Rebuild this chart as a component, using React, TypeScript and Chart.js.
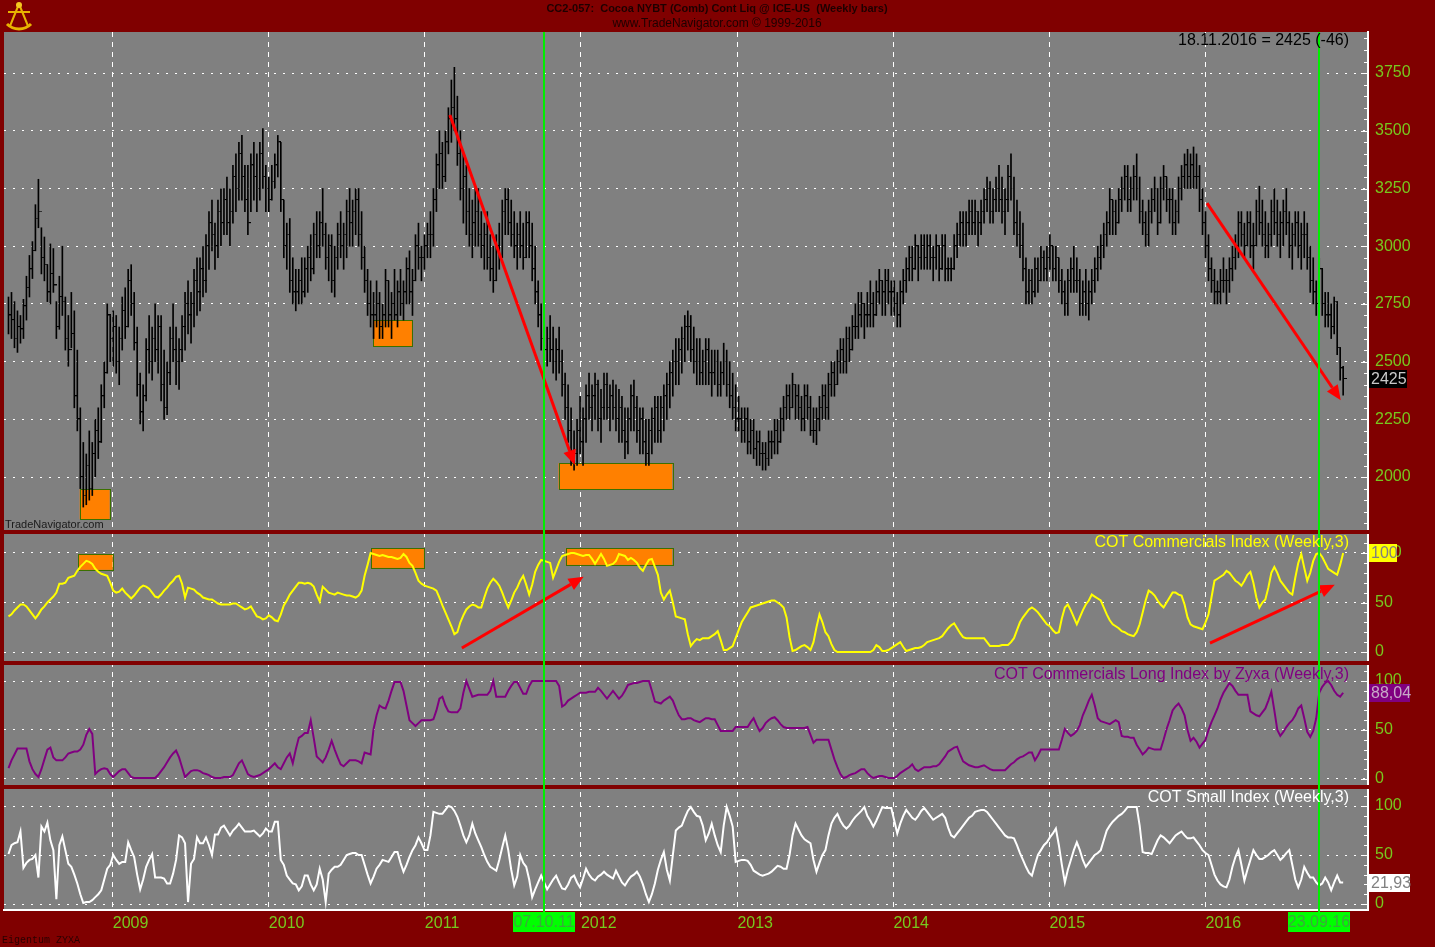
import React, { useEffect, useRef } from 'react';
import { Chart, registerables } from 'chart.js';

Chart.register(...registerables);

const W = 1435;
const H = 947;

// x axis: week index (0 = 02.05.2008 ... 446 = 18.11.2016)
const yearTicks = [34.86, 87.0, 139.14, 191.29, 243.57, 295.71, 347.86, 400.0];
const yearLabels = ['2009', '2010', '2011', '2012', '2013', '2014', '2015', '2016'];
const priceTicks = [2000, 2250, 2500, 2750, 3000, 3250, 3500, 3750];
const indexTicks = [0, 50, 100];
const markerWeeks = [179, 438];
const markerLabels = ['07.10.11', '23.09.16'];
const lastDate = '18.11.2016';

const priceHigh = [
  2780, 2800, 2760, 2720, 2700, 2770, 2870, 2960, 3020, 3180,
  3290, 3080, 3040, 2920, 3010, 2990, 2760, 2870, 3000, 2780,
  2700, 2800, 2720, 2550, 2300, 2150, 2100, 2200, 2150, 2250,
  2300, 2400, 2500, 2750, 2700, 2720, 2700, 2650, 2780, 2820,
  2900, 2920, 2800, 2650, 2450, 2400, 2600, 2700, 2650, 2750,
  2700, 2700, 2550, 2500, 2650, 2750, 2650, 2600, 2700, 2800,
  2850, 2800, 2900, 2950, 2950, 3000, 3050, 3150, 3200, 3100,
  3200, 3250, 3250, 3300, 3250, 3350, 3400, 3450, 3480, 3350,
  3350, 3400, 3450, 3400, 3450, 3510, 3350, 3300, 3350, 3400,
  3480, 3450, 3200, 3100, 3120, 2950, 2900, 2900, 2950, 2950,
  3000, 3050, 3100, 3150, 3150, 3250, 3100, 3050, 3050, 3000,
  3100, 3150, 3100, 3200, 3250, 3200, 3250, 3250, 3150, 3000,
  2900, 2850, 2800, 2850, 2800, 2750, 2900, 2850, 2800, 2900,
  2850, 2900, 2850, 2950, 2980, 2900, 3050, 3100, 3000, 3050,
  3100, 3150, 3250, 3400, 3500, 3450, 3500, 3600, 3720, 3775,
  3650, 3500, 3400, 3350, 3250, 3200, 3250, 3250, 3150, 3100,
  3150, 3050, 3000, 3050, 3100, 3200, 3250, 3250, 3200, 3150,
  3100, 3150, 3100, 3150, 3150, 3100, 3000, 2850, 2750, 2700,
  2650, 2700, 2650, 2600, 2650, 2550, 2450, 2400, 2300, 2200,
  2250, 2350, 2300, 2400, 2450, 2400, 2450, 2420, 2380, 2450,
  2450, 2400, 2420, 2400, 2380, 2350, 2300, 2300, 2400, 2420,
  2350, 2300, 2300, 2250, 2250, 2300, 2350, 2350, 2350, 2400,
  2450, 2500, 2550, 2600, 2600, 2650, 2700, 2720, 2700, 2650,
  2600, 2600, 2550, 2600, 2600, 2550, 2550, 2550, 2500, 2580,
  2550, 2500, 2450, 2400, 2350, 2300, 2300, 2300, 2250, 2250,
  2200, 2200, 2150, 2150, 2200, 2200, 2250, 2250, 2300, 2350,
  2400, 2400, 2450, 2400, 2400, 2350, 2400, 2400, 2350, 2300,
  2300, 2350, 2400, 2400, 2450, 2500, 2500, 2550, 2600, 2600,
  2650, 2650, 2700, 2750, 2800, 2800, 2750, 2800, 2850, 2800,
  2850, 2900, 2850, 2900, 2900, 2850, 2850, 2800, 2850, 2900,
  2950, 3000, 3000, 3050, 3000, 3050, 3050, 3050, 3050, 3000,
  3050, 3000, 3050, 3050, 2950, 2950, 3050, 3100, 3150, 3150,
  3150, 3200, 3200, 3200, 3150, 3200, 3250, 3300, 3280, 3250,
  3300, 3350, 3300, 3250, 3350, 3400, 3300, 3200, 3150, 3100,
  2950, 2900, 2900, 2950, 2950, 3000, 2980, 3000, 3050, 3000,
  3000, 2950, 2900, 2850, 2900, 2950, 3000, 2950, 2900, 2850,
  2900, 2850, 2900, 2950, 3000, 3050, 3100, 3150, 3250, 3200,
  3200, 3250, 3300, 3350, 3350, 3300, 3350, 3400, 3300, 3200,
  3150, 3200, 3250, 3300, 3250, 3300, 3350, 3300, 3250, 3250,
  3200, 3300, 3350, 3400, 3420, 3400, 3430, 3400, 3350, 3250,
  3150, 3050, 2950, 2900, 2850, 2900, 2950, 2900, 2950, 3000,
  3050, 3150, 3150, 3100, 3150, 3150, 3100, 3200, 3260, 3200,
  3150, 3100, 3200, 3250, 3200, 3150, 3200, 3250, 3150, 3100,
  3150, 3150, 3100, 3150, 3100, 3000, 2950, 2850, 2950, 2900,
  2800, 2800, 2750, 2780, 2760, 2560, 2480,
];

const priceLow = [
  2620, 2600, 2560, 2540, 2580, 2600, 2680, 2780, 2860, 2980,
  3080, 2880, 2850, 2760, 2750, 2800, 2600, 2640, 2700, 2550,
  2480, 2560, 2300, 2200, 1950, 1870, 1880, 1900, 1920, 2000,
  2080, 2150, 2300, 2450, 2500, 2480, 2450, 2400, 2550, 2600,
  2650, 2700, 2550, 2350, 2230, 2200, 2330, 2450, 2420, 2500,
  2450, 2330, 2250, 2270, 2400, 2500, 2400, 2380, 2500, 2550,
  2620, 2580, 2650, 2700, 2720, 2780, 2800, 2900, 2980, 2900,
  2950, 3000, 3050, 3050, 3000, 3100, 3150, 3200, 3200, 3150,
  3050, 3150, 3200, 3150, 3200, 3250, 3150, 3150, 3200, 3250,
  3300, 3150, 2950, 2900, 2800, 2750, 2720, 2750, 2750, 2780,
  2800, 2850, 2880, 2950, 2950, 3000, 2900, 2850, 2800, 2780,
  2900, 2950, 2900, 2950, 3000, 3000, 3050, 3000, 2900, 2800,
  2700, 2650, 2600, 2650, 2600, 2600, 2650, 2650, 2600, 2680,
  2650, 2700, 2680, 2750, 2750, 2700, 2850, 2900, 2850, 2900,
  2950, 2950, 3000, 3150, 3250, 3250, 3280, 3400, 3450, 3500,
  3350, 3200, 3100, 3050, 3000, 2950, 3000, 3000, 2950, 2900,
  2900, 2850, 2800, 2850, 2900, 2950, 3050, 3050, 3000, 2950,
  2900, 2950, 2900, 2950, 2950, 2850, 2750, 2650, 2550, 2500,
  2480, 2500, 2450, 2420, 2450, 2350, 2250, 2150, 2050, 2030,
  2050, 2100, 2050, 2150, 2250, 2200, 2250, 2200, 2150, 2250,
  2250, 2200, 2250, 2200, 2150, 2150, 2080, 2100, 2200, 2200,
  2150, 2100, 2100, 2050, 2050, 2100, 2150, 2150, 2150, 2200,
  2250, 2300, 2350, 2400, 2400, 2450, 2500, 2550, 2500, 2450,
  2400, 2400, 2400, 2400, 2400, 2350, 2400, 2350, 2350, 2400,
  2350, 2300, 2250, 2200, 2200, 2150, 2150, 2100, 2100, 2080,
  2050, 2050, 2030, 2030, 2050, 2080, 2100, 2100, 2150, 2200,
  2250, 2250, 2300, 2250, 2250, 2200, 2200, 2250, 2180, 2150,
  2140, 2200, 2250, 2250, 2250, 2350, 2350, 2400, 2450, 2450,
  2450, 2500, 2550, 2600, 2600, 2650, 2600, 2650, 2650, 2650,
  2700, 2750, 2700, 2700, 2750, 2700, 2700, 2650, 2650, 2750,
  2800, 2850, 2850, 2900, 2850, 2900, 2900, 2900, 2900, 2850,
  2900, 2850, 2900, 2850, 2850, 2850, 2900, 2950, 3000, 3000,
  3000, 3050, 3050, 3050, 3000, 3050, 3100, 3150, 3100, 3100,
  3150, 3150, 3100, 3050, 3150, 3200, 3050, 3000, 2950, 2850,
  2750, 2750, 2750, 2780, 2800, 2850, 2850, 2850, 2900, 2850,
  2850, 2800, 2750, 2700, 2700, 2800, 2800, 2800, 2700, 2700,
  2700, 2680, 2750, 2800, 2850, 2900, 2950, 3000, 3050, 3050,
  3050, 3100, 3150, 3200, 3150, 3150, 3200, 3200, 3100, 3050,
  3000, 3000, 3100, 3150, 3050, 3100, 3200, 3150, 3100, 3050,
  3050, 3100, 3200, 3250, 3250, 3250, 3250, 3250, 3150, 3050,
  2950, 2850, 2800, 2750, 2750, 2750, 2800, 2750, 2800, 2850,
  2900, 2950, 3000, 2950, 3000, 2950, 2900, 3000, 3050, 3000,
  2950, 2950, 3000, 3050, 3000, 2950, 3000, 3050, 2950, 2900,
  3000, 2950, 2900, 2950, 2900, 2800, 2750, 2700, 2750, 2700,
  2650, 2650, 2600, 2620, 2530, 2420, 2355,
];

const priceClose = [
  2700, 2680, 2600, 2650, 2640, 2740, 2820, 2900, 2980, 3120,
  3150, 2950, 2920, 2800, 2880, 2830, 2650, 2780, 2760, 2600,
  2550, 2620, 2350, 2250, 2000, 1920, 2050, 1950, 2100, 2200,
  2150, 2350, 2450, 2700, 2600, 2650, 2500, 2600, 2720, 2650,
  2850, 2750, 2580, 2400, 2280, 2350, 2550, 2500, 2600, 2550,
  2650, 2400, 2300, 2450, 2600, 2550, 2500, 2550, 2650, 2750,
  2700, 2750, 2850, 2800, 2900, 2850, 3000, 3100, 3050, 3000,
  3150, 3100, 3200, 3100, 3150, 3300, 3250, 3400, 3300, 3200,
  3100, 3350, 3300, 3250, 3400, 3300, 3250, 3200, 3280, 3350,
  3450, 3200, 3000, 3050, 2850, 2800, 2800, 2850, 2800, 2900,
  2950, 2900, 3050, 3000, 3100, 3050, 2950, 3000, 2850, 2950,
  3050, 3000, 3050, 3150, 3100, 3150, 3200, 3050, 2950, 2850,
  2750, 2700, 2700, 2750, 2650, 2700, 2850, 2700, 2750, 2700,
  2800, 2750, 2800, 2900, 2800, 2850, 3000, 2950, 2950, 3000,
  3050, 3050, 3200, 3350, 3400, 3300, 3450, 3550, 3600, 3550,
  3400, 3250, 3300, 3150, 3050, 3100, 3150, 3050, 3000, 3050,
  2950, 2900, 2850, 3000, 2950, 3150, 3200, 3100, 3050, 3000,
  3050, 3000, 2950, 3100, 3000, 2900, 2800, 2700, 2600, 2550,
  2600, 2550, 2500, 2550, 2500, 2400, 2300, 2200, 2100, 2100,
  2200, 2150, 2250, 2350, 2300, 2350, 2400, 2250, 2300, 2400,
  2300, 2350, 2300, 2250, 2300, 2200, 2150, 2250, 2350, 2300,
  2200, 2250, 2150, 2100, 2200, 2250, 2300, 2200, 2300, 2350,
  2400, 2450, 2500, 2500, 2550, 2600, 2650, 2650, 2550, 2500,
  2500, 2450, 2500, 2550, 2450, 2450, 2500, 2400, 2450, 2500,
  2400, 2350, 2300, 2250, 2250, 2200, 2250, 2150, 2200, 2120,
  2150, 2100, 2100, 2080, 2150, 2150, 2200, 2150, 2250, 2300,
  2350, 2300, 2400, 2350, 2300, 2250, 2350, 2300, 2200, 2200,
  2250, 2300, 2350, 2300, 2400, 2450, 2400, 2500, 2550, 2500,
  2600, 2550, 2650, 2650, 2700, 2750, 2700, 2700, 2750, 2700,
  2800, 2850, 2800, 2850, 2800, 2800, 2750, 2700, 2800, 2850,
  2900, 2950, 2900, 3000, 2950, 3000, 2950, 3000, 2950, 2950,
  3000, 2900, 3000, 2900, 2900, 2900, 3000, 3050, 3100, 3050,
  3100, 3150, 3100, 3150, 3100, 3150, 3200, 3250, 3150, 3200,
  3250, 3200, 3150, 3200, 3300, 3250, 3100, 3050, 3000, 2900,
  2800, 2850, 2800, 2900, 2850, 2950, 2900, 2950, 3000, 2900,
  2950, 2850, 2800, 2750, 2850, 2900, 2850, 2850, 2750, 2800,
  2750, 2800, 2850, 2900, 2950, 3000, 3050, 3100, 3200, 3150,
  3100, 3200, 3250, 3300, 3200, 3250, 3300, 3250, 3150, 3100,
  3050, 3150, 3200, 3250, 3100, 3250, 3300, 3200, 3200, 3100,
  3150, 3250, 3300, 3350, 3300, 3350, 3300, 3300, 3200, 3100,
  3000, 2900, 2850, 2800, 2800, 2850, 2850, 2850, 2900, 2950,
  3000, 3100, 3050, 3000, 3100, 3000, 3000, 3150, 3100, 3050,
  3000, 3050, 3150, 3100, 3050, 3100, 3150, 3100, 3000, 3050,
  3100, 3000, 3050, 3050, 2950, 2850, 2800, 2750, 2900, 2750,
  2700, 2700, 2650, 2760, 2560, 2471, 2425,
];

const comIndex = [
  36, 38, 42, 45, 48, 48, 46, 42, 38, 34,
  38, 43, 46, 50, 53, 56, 60, 69, 69, 70,
  75, 76, 77, 82, 86, 89, 92, 91, 89, 84,
  81, 79, 78, 77, 70, 62, 60, 61, 64, 60,
  57, 54, 57, 61, 65, 67, 66, 64, 60, 56,
  55, 58, 62, 65, 69, 72, 76, 77, 69, 55,
  65, 64, 63, 60, 58, 55, 54, 53, 53, 51,
  49, 48, 48, 48, 48, 49, 49, 47, 45, 43,
  44, 46, 41, 36, 35, 33, 34, 37, 35, 32,
  31, 38, 47, 52, 58, 62, 66, 70, 70, 69,
  70, 69, 66, 58, 51, 66, 63, 60, 59, 58,
  60, 59, 58, 57, 57, 56, 55, 57, 62, 77,
  88, 100, 99, 98, 97, 98, 97, 96, 96, 95,
  94, 95, 99, 96, 90, 87, 80, 72, 69, 67,
  66, 65, 64, 62, 55, 47, 40, 33, 26, 18,
  20, 30, 37, 43, 46, 48, 47, 45, 45, 55,
  64, 70, 74, 71, 67, 60, 52, 45, 52, 60,
  65, 72, 77, 68, 58, 68, 81, 88, 93, 92,
  91, 90, 75, 83, 91, 97, 98, 99, 100, 100,
  99, 98, 97, 98, 98, 94, 89, 94, 99, 94,
  87, 88, 89, 92, 99, 98, 97, 93, 95, 93,
  90, 85, 82, 88, 93, 94, 86, 78, 60, 53,
  58, 62, 50, 36, 35, 34, 33, 18, 6, 10,
  13, 12, 14, 14, 14, 16, 18, 21, 12, 2,
  2, 4, 6, 14, 22, 30, 35, 40, 45, 46,
  47, 48, 49, 50, 51, 52, 52, 50, 48, 45,
  35, 15, 1, 2, 4, 6, 7, 5, 2, 10,
  25, 38, 30, 20, 16, 8, 2, 0, 0, 0,
  0, 0, 0, 0, 0, 0, 0, 0, 0, 2,
  7, 5, 1, 1, 2, 4, 6, 8, 10, 5,
  1, 2, 3, 4, 4, 5, 7, 10, 11, 12,
  13, 14, 16, 20, 24, 27, 29, 24, 19, 15,
  14, 14, 14, 14, 14, 14, 14, 10, 6, 6,
  6, 6, 7, 7, 7, 10, 14, 22, 30, 35,
  39, 43, 45, 43, 40, 36, 32, 28, 26, 22,
  19, 20, 34, 45, 48, 42, 35, 28, 35, 42,
  48, 52, 58, 56, 54, 52, 45, 38, 32, 28,
  26, 24, 21, 20, 18, 17, 16, 20, 28, 40,
  52, 62, 60, 57, 52, 48, 45, 50, 55, 60,
  60, 58, 57, 48, 35, 28, 26, 25, 24, 23,
  30, 38, 55, 72, 74, 76, 78, 82, 80, 76,
  72, 70, 67, 72, 78, 81, 70, 55, 45, 50,
  53, 65, 80, 86, 80, 72, 68, 64, 60, 58,
  75, 90, 99, 85, 72, 80, 92, 99, 100, 96,
  90, 84, 82, 80, 78, 88, 100,
];

const comLong = [
  11, 19, 25, 31, 31, 31, 31, 18, 10, 5,
  2, 10, 20, 30, 32, 22, 19, 19, 19, 22,
  26, 27, 28, 28, 30, 35, 45, 51, 46, 5,
  8, 10, 11, 10, 5, 2, 5, 8, 10, 10,
  6, 2, 1, 1, 1, 1, 1, 1, 1, 1,
  4, 8, 12, 17, 22, 26, 29, 22, 12, 2,
  5, 8, 9, 9, 8, 6, 5, 4, 2, 1,
  1, 1, 2, 2, 2, 4, 10, 16, 19, 12,
  5, 3, 2, 3, 4, 6, 8, 10, 13, 16,
  12, 10, 16, 22, 26, 16, 30, 42, 44, 47,
  47, 60, 42, 23, 20, 17, 22, 30, 39, 30,
  22, 15, 13, 16, 19, 19, 19, 18, 16, 27,
  26, 25, 51, 65, 75, 73, 72, 80, 90, 99,
  99, 99, 90, 75, 60, 57, 54, 57, 60, 60,
  60, 60, 61, 70, 82, 84, 75, 69, 68, 68,
  68, 72, 88, 100, 92, 84, 85, 86, 86, 86,
  86, 90, 100, 84, 84, 84, 84, 90, 95, 99,
  99, 93, 87, 87, 95, 100, 100, 100, 100, 100,
  100, 100, 100, 100, 95, 74, 76, 80, 82, 84,
  86, 88, 88, 88, 89, 89, 89, 93, 90, 86,
  82, 86, 90, 86, 82, 85, 90, 96, 97, 98,
  98, 99, 100, 100, 100, 90, 79, 78, 77, 80,
  82, 84, 80, 72, 65, 61, 61, 62, 62, 60,
  59, 58, 60, 62, 62, 61, 61, 55, 49, 49,
  49, 49, 49, 53, 53, 53, 53, 53, 58, 62,
  55, 49, 52, 57, 60, 62, 63, 60, 56, 53,
  52, 52, 52, 52, 52, 52, 52, 53, 45, 37,
  40, 40, 40, 40, 40, 30, 20, 12, 5, 1,
  2, 4, 5, 6, 8, 10, 10, 6, 3, 1,
  2, 3, 3, 2, 1, 1, 1, 3, 6, 8,
  10, 12, 15, 10, 8, 10, 12, 12, 12, 13,
  13, 15, 19, 23, 28, 30, 32, 33, 25, 18,
  16, 14, 13, 12, 12, 13, 14, 12, 10, 9,
  9, 9, 9, 9, 12, 15, 17, 20, 22, 23,
  25, 27, 27, 19, 24, 30, 30, 30, 30, 30,
  30, 30, 40, 51, 47, 44, 46, 49, 55, 65,
  72, 80, 86, 75, 62, 59, 58, 57, 56, 58,
  60, 58, 44, 43, 43, 42, 42, 35, 30, 25,
  28, 32, 31, 30, 30, 30, 40, 51, 60, 70,
  74, 77, 72, 65, 50, 39, 42, 38, 32, 36,
  40, 50, 58, 65, 72, 81, 88, 93, 98, 95,
  90, 86, 86, 86, 86, 69, 67, 65, 64, 68,
  72, 80, 89, 70, 50, 44, 48, 53, 57, 60,
  65, 72, 75, 62, 48, 43, 49, 62, 88, 94,
  98, 100, 96, 90, 86, 84, 88.04,
];

const smallIndex = [
  51, 60, 62, 63, 74, 37, 42, 45, 46, 50,
  27, 79, 74, 83, 65, 55, 5, 60, 69, 55,
  41, 38, 30, 21, 10, 1, 2, 2, 4, 7,
  10, 14, 25, 36, 40, 50, 45, 41, 43, 43,
  63, 55, 48, 30, 15, 25, 38, 45, 51, 27,
  27, 27, 26, 21, 21, 31, 45, 70, 68, 62,
  2, 41, 46, 68, 62, 62, 68, 60, 50, 71,
  71, 78, 80, 75, 70, 75, 78, 82, 78, 74,
  74, 74, 75, 72, 69, 72, 77, 74, 74, 84,
  84, 45, 40, 29, 25, 21, 20, 14, 18, 29,
  29, 20, 14, 20, 36, 25, 2, 31, 35, 38,
  38, 40, 45, 50, 51, 52, 52, 50, 50, 40,
  30, 21, 28, 36, 40, 45, 44, 43, 48, 53,
  53, 42, 33, 40, 48, 55, 60, 68, 62, 55,
  55, 70, 94, 93, 92, 92, 96, 100, 99, 95,
  89, 80, 70, 63, 70, 82, 72, 65, 58, 50,
  43, 38, 36, 34, 45, 58, 70, 55, 35, 19,
  28, 50, 42, 38, 25, 7, 15, 22, 29, 22,
  15, 20, 25, 29, 22, 16, 15, 20, 27, 29,
  22, 17, 26, 36, 30, 26, 24, 28, 30, 33,
  30, 28, 26, 34, 28, 22, 19, 24, 28, 30,
  33, 28, 20, 10, 2, 10, 21, 35, 45, 53,
  35, 24, 50, 75, 78, 80, 88, 95, 99, 94,
  90, 89, 80, 65, 72, 82, 70, 60, 53, 80,
  99, 90, 79, 43, 44, 45, 45, 44, 40, 34,
  32, 30, 29, 30, 31, 33, 36, 39, 38, 36,
  36, 50, 70, 82, 76, 70, 66, 64, 62, 45,
  33, 42, 50, 55, 70, 82, 88, 92, 85, 80,
  77, 80, 85, 89, 92, 95, 99, 90, 85, 79,
  85, 92, 99, 98, 98, 98, 85, 72, 82, 90,
  96, 92, 88, 86, 90, 95, 98, 94, 90, 86,
  88, 90, 92, 88, 78, 70, 68, 72, 76, 80,
  84, 88, 90, 94, 95, 96, 96, 94, 90, 86,
  82, 78, 74, 70, 68, 68, 67, 60, 52, 45,
  38, 32, 29, 40, 50, 55, 60, 63, 68, 72,
  77, 60, 40, 22, 35, 45, 55, 63, 55, 45,
  38, 42, 46, 50, 52, 55, 65, 75, 80, 84,
  87, 90, 92, 95, 99, 99, 99, 99, 80, 53,
  52, 52, 51, 58, 65, 70, 68, 65, 62, 66,
  70, 72, 74, 70, 67, 67, 68, 64, 60, 55,
  52, 50, 40, 30, 24, 20, 18, 17, 25, 38,
  48, 55, 40, 24, 35, 45, 55, 50, 46, 46,
  48, 50, 53, 55, 50, 45, 48, 52, 55, 40,
  25, 17, 25, 38, 32, 27, 27, 22, 19, 21,
  27, 22, 14, 22, 29, 22, 21.93,
];

// annotations: [weekFrom, weekTo, valueLow, valueHigh]
const priceBoxes = [
  [23.8, 33.8, 1818, 1948],
  [121.8, 134.8, 2567, 2680],
  [183.8, 221.8, 1948, 2060],
];
const comBoxes = [
  [23.2, 34.8, 83, 99],
  [121.2, 138.8, 85, 105],
  [186.2, 221.8, 88, 105],
];
// arrows: [weekFrom, valueFrom, weekTo, valueTo]
const priceArrows = [
  [147.5, 3568, 189.2, 2052],
  [400.5, 3187, 445.2, 2333],
];
const comArrows = [
  [151.5, 4, 192.2, 76],
  [401.5, 9, 443.2, 68],
];

const AXIS_GREEN = '#78C81E';
const FONT = '"Liberation Sans", Arial, sans-serif';

const decor = {
  id: 'decor',
  beforeDraw(chart: any) {
    const { ctx, chartArea: a } = chart;
    ctx.save();
    ctx.fillStyle = '#800000';
    ctx.fillRect(0, 0, W, H);
    ctx.fillStyle = '#808080';
    ctx.fillRect(a.left, a.top, a.right - a.left, a.bottom - a.top);
    ctx.restore();
  },
  beforeDatasetsDraw(chart: any) {
    const { ctx } = chart;
    const x = chart.scales.x;
    const drawBoxes = (boxes: number[][], id: string) => {
      const s = chart.scales[id];
      boxes.forEach(([w0, w1, v0, v1]) => {
        const x0 = x.getPixelForValue(w0);
        const x1 = x.getPixelForValue(w1);
        const y0 = s.getPixelForValue(v1);
        const y1 = s.getPixelForValue(v0);
        ctx.fillStyle = '#FF8000';
        ctx.fillRect(x0, y0, x1 - x0, y1 - y0);
        ctx.strokeStyle = '#3C7000';
        ctx.lineWidth = 1;
        ctx.strokeRect(Math.round(x0) + 0.5, Math.round(y0) + 0.5, Math.round(x1 - x0), Math.round(y1 - y0));
      });
    };
    ctx.save();
    drawBoxes(priceBoxes, 'yP');
    drawBoxes(comBoxes, 'yC');
    ctx.restore();
  },
  afterDatasetsDraw(chart: any) {
    const { ctx } = chart;
    const x = chart.scales.x;
    const arrow = (x1: number, y1: number, x2: number, y2: number) => {
      const ang = Math.atan2(y2 - y1, x2 - x1);
      const hl = 15;
      const hw = 6.5;
      const bx = x2 - hl * Math.cos(ang);
      const by = y2 - hl * Math.sin(ang);
      ctx.strokeStyle = '#FF0000';
      ctx.lineWidth = 3;
      ctx.beginPath();
      ctx.moveTo(x1, y1);
      ctx.lineTo(bx, by);
      ctx.stroke();
      ctx.fillStyle = '#FF0000';
      ctx.beginPath();
      ctx.moveTo(x2, y2);
      ctx.lineTo(bx - hw * Math.sin(ang), by + hw * Math.cos(ang));
      ctx.lineTo(bx + hw * Math.sin(ang), by - hw * Math.cos(ang));
      ctx.closePath();
      ctx.fill();
    };
    ctx.save();
    const drawArrows = (list: number[][], id: string) => {
      const s = chart.scales[id];
      list.forEach(([w0, v0, w1, v1]) =>
        arrow(x.getPixelForValue(w0), s.getPixelForValue(v0), x.getPixelForValue(w1), s.getPixelForValue(v1)),
      );
    };
    drawArrows(priceArrows, 'yP');
    drawArrows(comArrows, 'yC');
    ctx.restore();
  },
  afterDraw(chart: any) {
    const { ctx, chartArea: a } = chart;
    const x = chart.scales.x;
    ctx.save();

    // minor ticks on the right axes
    ctx.fillStyle = '#FFFFFF';
    const minor = (id: string, step: number, majors: number[]) => {
      const s = chart.scales[id];
      const start = Math.ceil(s.min / step) * step;
      for (let v = start; v <= s.max; v += step) {
        const y = Math.round(s.getPixelForValue(v));
        const len = majors.includes(v) ? 7 : 4;
        ctx.fillRect(s.left - len, y, len, 1);
      }
    };
    minor('yP', 50, priceTicks);
    minor('yC', 10, indexTicks);
    minor('yL', 10, indexTicks);
    minor('yS', 10, indexTicks);

    // pane separators
    ctx.fillStyle = '#800000';
    ['yP', 'yC', 'yL'].forEach((id) => {
      const b = chart.scales[id].bottom;
      ctx.fillRect(0, b - 2, a.right + 2, 4);
    });

    // marker lines + date labels
    ctx.font = `16px ${FONT}`;
    ctx.textBaseline = 'middle';
    ctx.textAlign = 'center';
    markerWeeks.forEach((w, k) => {
      const px = Math.round(x.getPixelForValue(w));
      ctx.fillStyle = '#00F000';
      ctx.fillRect(px - 1, a.top, 2, a.bottom - a.top + 3);
      ctx.fillStyle = '#00FF00';
      ctx.fillRect(px - 31, a.bottom + 2, 62, 20);
      ctx.fillStyle = '#3CA83C';
      ctx.fillText(markerLabels[k], px, a.bottom + 12.5);
    });

    // last value boxes on the right axis
    const valueBox = (id: string, val: number, text: string, bg: string, fg: string, w: number) => {
      const s = chart.scales[id];
      const y = s.getPixelForValue(val);
      ctx.fillStyle = bg;
      ctx.fillRect(a.right + 1, Math.round(y) - 9, w, 18);
      ctx.fillStyle = fg;
      ctx.textAlign = 'left';
      ctx.fillText(text, a.right + 3, y + 1);
    };
    const n = priceClose.length - 1;
    const fmt = (v: number) => v.toFixed(2).replace('.', ',');
    valueBox('yP', priceClose[n], String(priceClose[n]), '#000000', '#C8C8C8', 38);
    valueBox('yC', comIndex[n], String(comIndex[n]), '#FFFF00', '#808080', 28);
    valueBox('yL', comLong[n], fmt(comLong[n]), '#800080', '#C8A8C8', 41);
    valueBox('yS', smallIndex[n], fmt(smallIndex[n]), '#FFFFFF', '#808080', 41);

    // pane captions
    ctx.textAlign = 'right';
    const capX = 1349;
    ctx.fillStyle = '#000000';
    const diff = priceClose[n] - priceClose[n - 1];
    ctx.fillText(`${lastDate} = ${priceClose[n]} (${diff})`, capX, 41);
    ctx.fillStyle = '#FFFF00';
    ctx.fillText('COT Commercials Index (Weekly,3)', capX, chart.scales.yC.top + 11);
    ctx.fillStyle = '#800080';
    ctx.fillText('COT Commercials Long Index by Zyxa (Weekly,3)', capX, chart.scales.yL.top + 12);
    ctx.fillStyle = '#FFFFFF';
    ctx.fillText('COT Small Index (Weekly,3)', capX, chart.scales.yS.top + 11);

    ctx.textAlign = 'left';
    ctx.fillStyle = '#1A1A1A';
    ctx.font = `11px ${FONT}`;
    ctx.fillText('TradeNavigator.com', 5, chart.scales.yP.bottom - 7);

    // title
    ctx.textAlign = 'center';
    ctx.fillStyle = '#1E0000';
    ctx.font = `bold 11px ${FONT}`;
    ctx.fillText('CC2-057:  Cocoa NYBT (Comb) Cont Liq @ ICE-US  (Weekly bars)', 717, 9);
    ctx.font = `12px ${FONT}`;
    ctx.fillText('www.TradeNavigator.com \u00A9 1999-2016', 717, 24);

    // footer
    ctx.textAlign = 'left';
    ctx.font = `10px "Liberation Mono", "DejaVu Sans Mono", monospace`;
    ctx.fillStyle = '#2A0000';
    ctx.fillText('Eigentum ZYXA', 2, 940);

    // small logo
    ctx.strokeStyle = '#E8B400';
    ctx.fillStyle = '#F4C820';
    ctx.lineWidth = 3;
    ctx.beginPath();
    ctx.arc(19, 12, 17, 0.25 * Math.PI, 0.75 * Math.PI);
    ctx.stroke();
    ctx.lineWidth = 2;
    ctx.beginPath();
    ctx.moveTo(19, 4);
    ctx.lineTo(10, 26);
    ctx.moveTo(19, 4);
    ctx.lineTo(28, 26);
    ctx.moveTo(8, 12);
    ctx.lineTo(30, 12);
    ctx.stroke();
    ctx.beginPath();
    ctx.arc(19, 5, 3, 0, Math.PI * 2);
    ctx.fill();

    ctx.restore();
  },
};

export default function App() {
  const ref = useRef<HTMLCanvasElement>(null);

  useEffect(() => {
    const canvas = ref.current;
    if (!canvas) return;

    const tick = document.createElement('canvas');
    tick.width = 7;
    tick.height = 2;
    const tc = tick.getContext('2d');
    if (tc) {
      tc.fillStyle = '#000000';
      tc.fillRect(4, 0, 3, 1);
    }

    const weeks = priceClose.map((_, i) => i);
    const bars = weeks.map((i) => ({ x: i, y: [priceLow[i], priceHigh[i]] }));
    const closes = weeks.map((i) => ({ x: i, y: priceClose[i] }));
    const line = (arr: number[]) => arr.map((v, i) => ({ x: i, y: v }));

    const yAxis = (min: number, max: number, weight: number, ticks: number[]) => ({
      type: 'linear',
      position: 'right',
      stack: 'panes',
      stackWeight: weight,
      min,
      max,
      afterFit: (s: any) => {
        s.width = 67;
      },
      afterBuildTicks: (s: any) => {
        s.ticks = ticks.map((v) => ({ value: v }));
      },
      grid: { color: '#FFFFFF', lineWidth: 1, drawTicks: false, offset: false },
      border: { display: true, color: '#FFFFFF', width: 2, dash: [2, 7] },
      ticks: {
        color: AXIS_GREEN,
        font: { family: 'Liberation Sans', size: 16 },
        padding: 7,
        callback: (v: number) => String(v),
      },
    });

    const chart = new Chart(canvas, {
      type: 'line',
      data: {
        datasets: [
          {
            type: 'line',
            label: 'COT Commercials Index (Weekly,3)',
            data: line(comIndex),
            yAxisID: 'yC',
            borderColor: '#FFFF00',
            borderWidth: 2,
            pointRadius: 0,
            tension: 0,
          },
          {
            type: 'line',
            label: 'COT Commercials Long Index by Zyxa (Weekly,3)',
            data: line(comLong),
            yAxisID: 'yL',
            borderColor: '#800080',
            borderWidth: 2,
            pointRadius: 0,
            tension: 0,
          },
          {
            type: 'line',
            label: 'COT Small Index (Weekly,3)',
            data: line(smallIndex),
            yAxisID: 'yS',
            borderColor: '#FFFFFF',
            borderWidth: 2,
            pointRadius: 0,
            tension: 0,
          },
          {
            type: 'line',
            label: 'Close',
            data: closes,
            yAxisID: 'yP',
            showLine: false,
            pointStyle: tick,
            pointRadius: 3,
            pointBorderWidth: 0,
          },
          {
            type: 'bar',
            label: 'Range',
            data: bars,
            yAxisID: 'yP',
            backgroundColor: '#000000',
            borderWidth: 0,
            barThickness: 1,
          },
        ],
      } as any,
      options: {
        animation: false,
        responsive: false,
        devicePixelRatio: 1,
        events: [],
        layout: { padding: { left: 1, top: 32, right: 0, bottom: 0 } },
        plugins: { legend: { display: false }, tooltip: { enabled: false } },
        scales: {
          x: {
            type: 'linear',
            position: 'bottom',
            min: -1.5,
            max: 454.3,
            offset: false,
            afterFit: (s: any) => {
              s.height = 37;
            },
            afterBuildTicks: (s: any) => {
              s.ticks = yearTicks.map((v) => ({ value: v }));
            },
            grid: { color: '#FFFFFF', lineWidth: 1, drawTicks: false, offset: false },
            border: { display: true, color: '#FFFFFF', width: 2, dash: [5, 5] },
            ticks: {
              color: AXIS_GREEN,
              font: { family: 'Liberation Sans', size: 16 },
              align: 'start',
              autoSkip: false,
              maxRotation: 0,
              padding: 4,
              callback: (_v: number, idx: number) => yearLabels[idx],
            },
          },
          yP: yAxis(1762, 3928, 500, priceTicks),
          yC: yAxis(-11.1, 121.2, 131, indexTicks),
          yL: yAxis(-8.2, 118.4, 124, indexTicks),
          yS: yAxis(-6.1, 119.4, 123, indexTicks),
        },
      } as any,
      plugins: [decor],
    });

    return () => chart.destroy();
  }, []);

  return (
    <div style={{ position: 'fixed', left: 0, top: 0, width: W, height: H, background: '#800000' }}>
      <canvas ref={ref} width={W} height={H} style={{ display: 'block', width: W, height: H }} />
    </div>
  );
}
